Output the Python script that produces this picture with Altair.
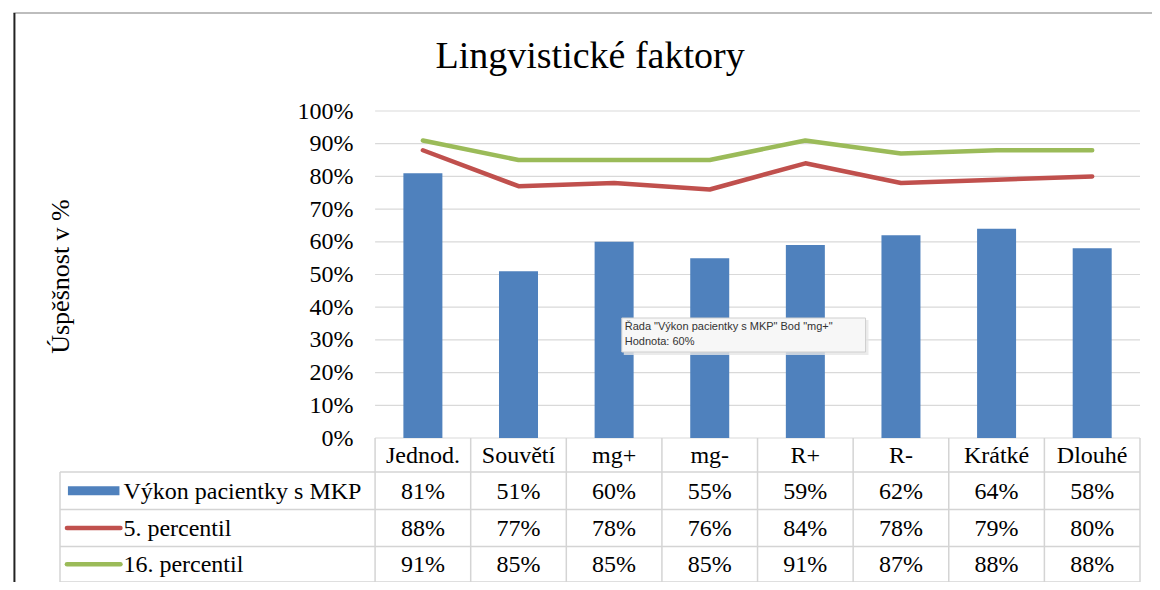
import altair as alt
import pandas as pd

# ---------------- data ----------------
categories = ["Jednod.", "Souvětí", "mg+", "mg-", "R+", "R-", "Krátké", "Dlouhé"]
patient = [81, 51, 60, 55, 59, 62, 64, 58]
p5 = [88, 77, 78, 76, 84, 78, 79, 80]
p16 = [91, 85, 85, 85, 91, 87, 88, 88]
series_names = ["Výkon pacientky s MKP", "5. percentil", "16. percentil"]
series_colors = ["#4F81BD", "#C0504D", "#9BBB59"]
y_ticks = [0, 10, 20, 30, 40, 50, 60, 70, 80, 90, 100]
chart_title = "Lingvistické faktory"
y_title = "Úspěšnost v %"
tooltip_lines = ['Řada "Výkon pacientky s MKP" Bod "mg+"', "Hodnota: 60%"]

# ---------------- layout (page pixels) ----------------
MARGIN = 8
PLOT_L, PLOT_R = 55, 1145
PLOT_T, PLOT_B = 111, 582
COL0 = 373
ZERO_Y = 438
W = PLOT_R - PLOT_L
H = PLOT_B - PLOT_T
n = len(categories)
col_w = (PLOT_R - COL0) / n
px_pct = (ZERO_Y - PLOT_T) / 100.0
x_min = -(COL0 - PLOT_L) / col_w
y_min = 100 - H / px_pct


def X(px):
    return (px - COL0) / col_w


def Y(py):
    return 100 - (py - PLOT_T) / px_pct


row_edges_px = [438, 472, 509.5, 546.5, 582]
row_edges = [Y(v) for v in row_edges_px]
row_mid = [(row_edges[k] + row_edges[k + 1]) / 2 for k in range(4)]

SERIF = "Liberation Serif"
GRID = "#d9d9d9"

xs = alt.Scale(domain=[x_min, n], nice=False, zero=False)
ys = alt.Scale(domain=[y_min, 100], nice=False, zero=False)
color_scale = alt.Scale(domain=series_names, range=series_colors)

y_axis = alt.Axis(
    values=y_ticks,
    labelExpr="datum.value + '%'",
    domain=False, ticks=False, tickSize=0, grid=False,
    offset=-(COL0 - PLOT_L), labelPadding=20,
    labelFont=SERIF, labelFontSize=24, labelColor="black",
    labelFlush=False, labelOverlap=False, labelBound=False,
    title=y_title, titleFont=SERIF, titleFontSize=26, titleFontWeight="normal",
    titleColor="black", titleAngle=270, titleAlign="center", titleBaseline="middle",
    titleX=60 - COL0, titleY=276 - PLOT_T,
)


def XE(field):
    return alt.X(field, type="quantitative", scale=xs, axis=None)


def YE(field):
    return alt.Y(field, type="quantitative", scale=ys, axis=y_axis)


# gridlines
df_grid = pd.DataFrame({"v": y_ticks, "x0": 0, "x1": n})
grid = alt.Chart(df_grid).mark_rule(color=GRID, strokeWidth=1.2).encode(
    x=XE("x0"), x2="x1:Q", y=YE("v"),
)

# bars
df_bar = pd.DataFrame({
    "cat": categories, "xc": [i + 0.5 for i in range(n)], "v": patient,
    "zero": 0, "series": series_names[0],
})
bars = alt.Chart(df_bar).mark_bar(size=39, orient="vertical").encode(
    x=XE("xc"), y=YE("v"), y2="zero:Q",
    color=alt.Color("series:N", scale=color_scale, legend=None),
)

# lines
rows = []
for name, vals in [(series_names[1], p5), (series_names[2], p16)]:
    for i, v in enumerate(vals):
        rows.append({"series": name, "xc": i + 0.5, "v": v, "order": i})
df_line = pd.DataFrame(rows)
lines = alt.Chart(df_line).mark_line(strokeWidth=4.5, strokeCap="round", strokeJoin="round").encode(
    x=XE("xc"), y=YE("v"),
    color=alt.Color("series:N", scale=color_scale, legend=None),
    order="order:Q",
)

# table borders
b = []
for k in range(1, 5):
    b.append({"x": x_min, "x2": n, "y": row_edges[k], "y2": row_edges[k]})
for k in range(n + 1):
    b.append({"x": k, "x2": k, "y": row_edges[0], "y2": row_edges[4]})
b.append({"x": x_min, "x2": x_min, "y": row_edges[1], "y2": row_edges[4]})
df_b = pd.DataFrame(b)
borders = alt.Chart(df_b).mark_rule(color="#d4d4d4", strokeWidth=1.5).encode(
    x=XE("x"), x2="x2:Q", y=YE("y"), y2="y2:Q",
)

# table text
cells = []
for i, c in enumerate(categories):
    cells.append({"xc": i + 0.5, "y": row_mid[0], "t": c})
for r, vals in enumerate([patient, p5, p16]):
    for i, v in enumerate(vals):
        cells.append({"xc": i + 0.5, "y": row_mid[r + 1], "t": f"{v}%"})
df_cells = pd.DataFrame(cells)
cell_text = alt.Chart(df_cells).mark_text(
    font=SERIF, fontSize=24, color="black", align="center", baseline="middle", dy=1
).encode(x=XE("xc"), y=YE("y"), text="t:N")

# legend column
df_sw = pd.DataFrame({
    "series": [series_names[0]], "x": [X(63)], "x2": [X(115)],
    "y": [row_mid[1] + 4.5 / px_pct], "y2": [row_mid[1] - 4.5 / px_pct],
})
sw_rect = alt.Chart(df_sw).mark_rect().encode(
    x=XE("x"), x2="x2:Q", y=YE("y"), y2="y2:Q",
    color=alt.Color("series:N", scale=color_scale, legend=None),
)
df_sl = pd.DataFrame({
    "series": series_names[1:], "x": [X(62)] * 2, "x2": [X(116)] * 2,
    "y": [row_mid[2], row_mid[3]],
})
sw_lines = alt.Chart(df_sl).mark_rule(strokeWidth=4.5, strokeCap="round").encode(
    x=XE("x"), x2="x2:Q", y=YE("y"),
    color=alt.Color("series:N", scale=color_scale, legend=None),
)
df_lt = pd.DataFrame({"t": series_names, "x": [X(119)] * 3, "y": row_mid[1:]})
leg_text = alt.Chart(df_lt).mark_text(
    font=SERIF, fontSize=24, color="black", align="left", baseline="middle", dy=1
).encode(x=XE("x"), y=YE("y"), text="t:N")

# title
df_title = pd.DataFrame({"t": [chart_title], "x": [X(590)], "y": [Y(68)]})
title = alt.Chart(df_title).mark_text(
    font=SERIF, fontSize=38, color="black", align="center", baseline="alphabetic"
).encode(x=XE("x"), y=YE("y"), text="t:N")

# outer frame
df_fl = pd.DataFrame({"x": [X(9)], "x2": [X(9)], "y": [Y(13)], "y2": [Y(590)]})
frame_left = alt.Chart(df_fl).mark_rule(color="#222222", strokeWidth=2).encode(
    x=XE("x"), x2="x2:Q", y=YE("y"), y2="y2:Q",
)
df_ft = pd.DataFrame({"x": [X(8)], "x2": [X(1160)], "y": [Y(13)], "y2": [Y(13)]})
frame_top = alt.Chart(df_ft).mark_rule(color="#bdbdbd", strokeWidth=2).encode(
    x=XE("x"), x2="x2:Q", y=YE("y"), y2="y2:Q",
)

# tooltip box (as in the screenshot)
df_tb = pd.DataFrame({"x": [X(622)], "x2": [X(868)], "y": [Y(318)], "y2": [Y(352)]})
df_tb_sh = pd.DataFrame({"x": [X(624)], "x2": [X(871)], "y": [Y(320)], "y2": [Y(355)]})
tip_shadow = alt.Chart(df_tb_sh).mark_rect(color="#e6e6e6", opacity=0.8).encode(
    x=XE("x"), x2="x2:Q", y=YE("y"), y2="y2:Q",
)
tip_box = alt.Chart(df_tb).mark_rect(fill="#f7f7f7", stroke="#cfcfcf", strokeWidth=1).encode(
    x=XE("x"), x2="x2:Q", y=YE("y"), y2="y2:Q",
)
df_tt = pd.DataFrame({"t": tooltip_lines, "x": [X(625)] * 2, "y": [Y(327), Y(342)]})
tip_text = alt.Chart(df_tt).mark_text(
    font="Liberation Sans", fontSize=11, color="#333333", align="left", baseline="middle"
).encode(x=XE("x"), y=YE("y"), text="t:N")

chart = alt.layer(
    grid, bars, lines, borders, cell_text, sw_rect, sw_lines, leg_text,
    title, frame_top, frame_left, tip_shadow, tip_box, tip_text,
).properties(
    width=W, height=H,
    autosize=alt.AutoSizeParams(type="none"),
    padding={"left": PLOT_L - MARGIN, "top": PLOT_T - MARGIN, "right": 7, "bottom": 0},
).configure_view(stroke=None)

chart.save("out.html", embed_options={"renderer": "svg", "actions": False})
